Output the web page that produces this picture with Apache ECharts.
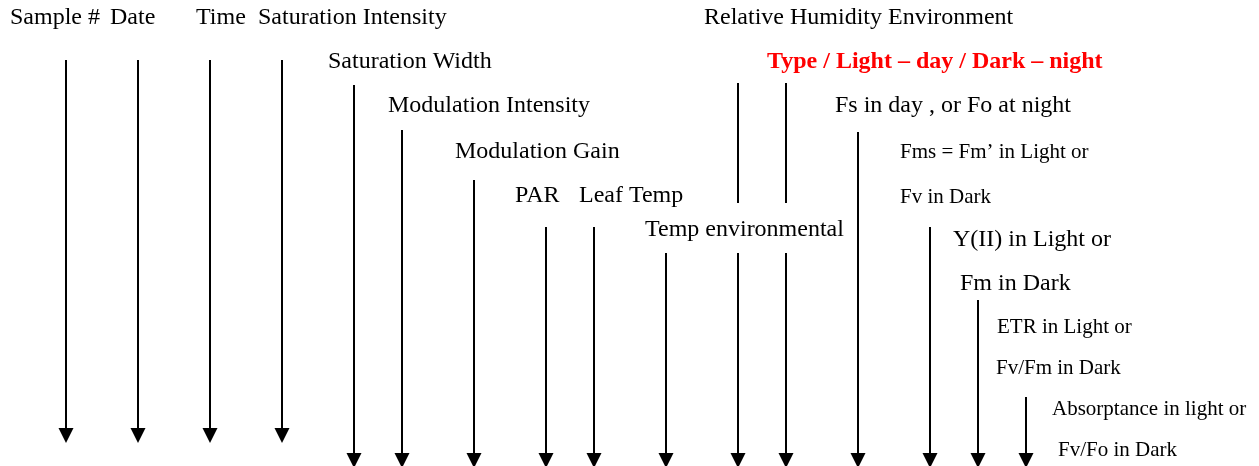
<!DOCTYPE html>
<html>
<head>
<meta charset="utf-8">
<script src="https://cdn.jsdelivr.net/npm/echarts@6/dist/echarts.min.js"></script>
<style>
html,body{margin:0;padding:0;background:#fff;}
#c{width:1259px;height:466px;}
</style>
</head>
<body>
<div id="c"></div>
<script>
// Arrow columns (x position, top of shaft, arrow tip)
const arrowX   = [66, 138, 210, 282, 354, 402, 474, 546, 594, 666, 738, 786, 858, 930, 978, 1026];
const arrowTop = [60, 60, 60, 60, 85, 130, 180, 227, 227, 253, 253, 253, 132, 227, 300, 397];
const arrowTip = [443, 443, 443, 443, 468, 468, 468, 468, 468, 468, 468, 468, 468, 468, 468, 468];
// Upper plain segments (interrupted by the text box)
const segX      = [738, 786];
const segTop    = [83, 83];
const segBottom = [203, 203];

// Large labels
const bigText = ["Sample #", "Date", "Time", "Saturation Intensity", "Relative Humidity Environment",
  "Saturation Width", "Modulation Intensity", "Fs in day , or Fo at night", "Modulation Gain",
  "PAR", "Y(II) in Light or", "Fm in Dark"];
const bigX = [10, 110, 196, 258, 704, 328, 388, 835, 455, 515, 953, 960];
const bigY = [18, 18, 18, 18, 18, 62, 106, 106, 152, 196, 240, 284];
// Clipped label
const clipText = ["Leaf Temp"];
const clipX = [579];
const clipY = [196];
// Boxed label
const boxText = ["Temp environmental"];
const boxX = [645];
const boxY = [230];
// Red bold label
const redText = ["Type / Light \u2013 day / Dark \u2013 night"];
const redX = [767];
const redY = [62];
// Small labels
const smallText = ["Fms = Fm\u2019 in Light or", "Fv in Dark", "ETR in Light or", "Fv/Fm in Dark",
  "Absorptance in light or", "Fv/Fo in Dark"];
const smallX = [900, 900, 997, 996, 1052, 1058];
const smallY = [152, 197, 327, 368, 409, 450];

const FONT = "'Liberation Serif','Times New Roman',serif";

function pts(xs, ys, texts) {
  return xs.map((x, i) => ({ value: [x, ys[i]], name: texts[i] }));
}
function textSeries(data, size, color, weight, zl, extra) {
  return {
    type: 'scatter', data: data, symbolSize: 0, zlevel: zl, silent: true,
    itemStyle: { opacity: 1 },
    label: Object.assign({
      show: true, position: 'right', distance: 0,
      formatter: p => p.name,
      fontFamily: FONT, fontSize: size, color: color, fontWeight: weight,
      align: 'left', verticalAlign: 'middle', opacity: 1
    }, extra || {})
  };
}

const arrowData = arrowX.map((x, i) => ({ coords: [[x, arrowTop[i]], [x, arrowTip[i] - 7.5]] }));
const segData = segX.map((x, i) => ({ coords: [[x, segTop[i]], [x, segBottom[i]]] }));

const chart = echarts.init(document.getElementById('c'), null, { renderer: 'canvas' });
chart.setOption({
  animation: false,
  backgroundColor: '#fff',
  grid: { left: 0, right: 0, top: 0, bottom: 0, containLabel: false },
  xAxis: { type: 'value', min: 0, max: 1259, show: false },
  yAxis: { type: 'value', min: 0, max: 466, inverse: true, show: false },
  series: [
    textSeries(pts(clipX, clipY, clipText), 24, '#000', 'normal', 0),
    textSeries(pts(boxX, boxY, boxText), 24, '#000', 'normal', 1,
      { backgroundColor: '#fff', padding: [15, 6, 4, 70], distance: -70 }),
    textSeries(pts(bigX, bigY, bigText), 24, '#000', 'normal', 0),
    textSeries(pts(redX, redY, redText), 24, '#ff0000', 'bold', 0),
    textSeries(pts(smallX, smallY, smallText), 21, '#000', 'normal', 0),
    {
      type: 'lines', coordinateSystem: 'cartesian2d', zlevel: 2, silent: true,
      symbol: ['none', 'triangle'], symbolSize: 15,
      lineStyle: { color: '#000', width: 2, opacity: 1 },
      itemStyle: { color: '#000' },
      data: arrowData
    },
    {
      type: 'lines', coordinateSystem: 'cartesian2d', zlevel: 2, silent: true,
      symbol: ['none', 'none'],
      lineStyle: { color: '#000', width: 2, opacity: 1 },
      data: segData
    }
  ]
});
</script>
</body>
</html>
